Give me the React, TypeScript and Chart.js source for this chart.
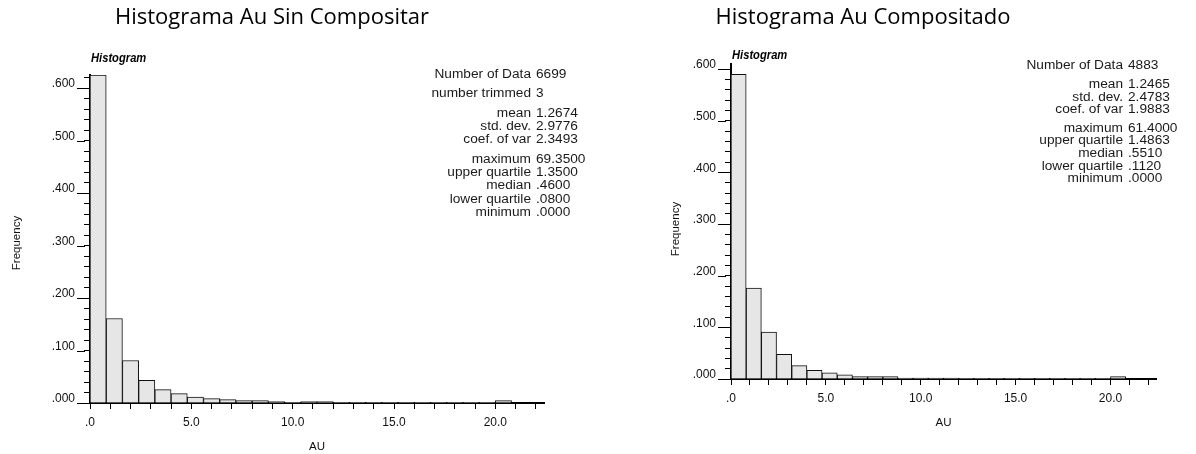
import { useEffect, useRef } from "react";
import { Chart, registerables } from "chart.js";

Chart.register(...registerables);

// Lower edge of every Au class; each class is binWidth wide
const binStarts = [
  0.0, 0.8, 1.6, 2.4, 3.2, 4.0, 4.8, 5.6, 6.4, 7.2, 8.0, 8.8, 9.6, 10.4,
  11.2, 12.0, 12.8, 13.6, 14.4, 15.2, 16.0, 16.8, 17.6, 18.4, 19.2, 20.0, 20.8, 21.6,
];
const binWidth = 0.8;

// Relative frequency per class, raw samples
const freqSinCompositar = [
  0.625, 0.161, 0.081, 0.043, 0.0254, 0.0178, 0.0114, 0.0083, 0.0064, 0.0045,
  0.0045, 0.0026, 0.0005, 0.0026, 0.0026, 0.0004, 0.0004, 0.0003, 0.0003, 0.0003,
  0.0003, 0.0002, 0.0002, 0.0002, 0.0002, 0.0045, 0, 0,
];

// Relative frequency per class, composited samples
const freqCompositado = [
  0.59, 0.176, 0.091, 0.048, 0.026, 0.017, 0.012, 0.008, 0.0045, 0.0045,
  0.0045, 0.002, 0.002, 0.002, 0.002, 0.0004, 0.0004, 0.0003, 0.0003, 0.0003,
  0.0003, 0.0002, 0.0002, 0.0002, 0.0002, 0.0045, 0, 0,
];

const xTickValues = [0, 5, 10, 15, 20];
const xTickLabels = [".0", "5.0", "10.0", "15.0", "20.0"];
const yTickValues = [0, 0.1, 0.2, 0.3, 0.4, 0.5, 0.6];
const yTickLabels = [".000", ".100", ".200", ".300", ".400", ".500", ".600"];

// Summary statistics, grouped as printed
const statsSinCompositar: [string, string][][] = [
  [["Number of Data", "6699"]],
  [["number trimmed", "3"]],
  [["mean", "1.2674"], ["std. dev.", "2.9776"], ["coef. of var", "2.3493"]],
  [
    ["maximum", "69.3500"],
    ["upper quartile", "1.3500"],
    ["median", ".4600"],
    ["lower quartile", ".0800"],
    ["minimum", ".0000"],
  ],
];

const statsCompositado: [string, string][][] = [
  [["Number of Data", "4883"]],
  [["mean", "1.2465"], ["std. dev.", "2.4783"], ["coef. of var", "1.9883"]],
  [
    ["maximum", "61.4000"],
    ["upper quartile", "1.4863"],
    ["median", ".5510"],
    ["lower quartile", ".1120"],
    ["minimum", ".0000"],
  ],
];

type PanelLayout = {
  left: number;
  padLeft: number;
  padRight: number;
  padTop: number;
  padBottom: number;
  yAxisWidth: number;
  xAxisHeight: number;
  yMax: number;
  titleX: number;
  titleY: number;
  subY: number;
  yTitleX: number;
  yTitleY: number;
  statsX: number;
  statsTop: number;
  statsStep: number;
  statsGap: number;
};

const W = 598;
const H = 454;
const SANS = "'Liberation Sans', Arial, sans-serif";

const labelFor = (values: number[], labels: string[], v: number) => {
  const i = values.findIndex((t) => Math.abs(t - v) < 1e-6);
  return i >= 0 ? labels[i] : "";
};

// text drawn with a horizontal stretch factor, anchored at x
function stretchedText(
  ctx: CanvasRenderingContext2D,
  text: string,
  x: number,
  y: number,
  align: "left" | "right" | "center",
  sx: number
) {
  ctx.save();
  ctx.translate(x, y);
  ctx.scale(sx, 1);
  ctx.textAlign = align;
  ctx.fillText(text, 0, 0);
  ctx.restore();
}

function Panel(props: {
  title: string;
  freqs: number[];
  stats: [string, string][][];
  layout: PanelLayout;
}) {
  const ref = useRef<HTMLCanvasElement | null>(null);
  const { title, freqs, stats, layout: L } = props;

  useEffect(() => {
    if (!ref.current) return;

    const decorations = {
      id: "histDecorations",
      afterDraw(chart: Chart) {
        const ctx = chart.ctx;
        const area = chart.chartArea;
        const yScale = chart.scales.y;
        ctx.save();

        // long major ticks on the frequency axis
        ctx.strokeStyle = "#000";
        ctx.lineWidth = 1;
        yTickValues.forEach((v) => {
          const y = Math.round(yScale.getPixelForValue(v)) + 0.5;
          ctx.beginPath();
          ctx.moveTo(area.left - 13, y);
          ctx.lineTo(area.left - 5, y);
          ctx.stroke();
        });

        // panel heading
        ctx.fillStyle = "#000";
        ctx.font = "22px 'Open Sans', sans-serif";
        ctx.textAlign = "center";
        ctx.textBaseline = "middle";
        ctx.fillText(title, L.titleX, L.titleY);

        // "Histogram" tag above the plot
        ctx.font = `italic bold 13px ${SANS}`;
        stretchedText(ctx, "Histogram", area.left + 1, L.subY, "left", 0.86);

        // frequency axis title
        ctx.save();
        ctx.translate(L.yTitleX, L.yTitleY);
        ctx.rotate(-Math.PI / 2);
        ctx.font = `11.5px ${SANS}`;
        ctx.fillStyle = "#111";
        ctx.textAlign = "center";
        ctx.fillText("Frequency", 0, 0);
        ctx.restore();

        // statistics block
        ctx.font = `12px ${SANS}`;
        ctx.fillStyle = "#1a1a1a";
        let y = L.statsTop;
        stats.forEach((group, gi) => {
          if (gi > 0) y += L.statsGap - L.statsStep;
          group.forEach(([name, value]) => {
            stretchedText(ctx, name, L.statsX - 3, y, "right", 1.14);
            stretchedText(ctx, value, L.statsX + 2, y, "left", 1.14);
            y += L.statsStep;
          });
        });
        ctx.restore();
      },
    };

    const chart = new Chart(ref.current, {
      type: "bar",
      data: {
        datasets: [
          {
            data: binStarts.map((s, i) => ({ x: s + binWidth / 2, y: freqs[i] })),
            backgroundColor: "#e6e6e6",
            borderColor: "#111",
            borderWidth: 1,
            barPercentage: 1,
            categoryPercentage: 1,
          },
        ],
      },
      options: {
        responsive: false,
        animation: false,
        layout: {
          padding: { left: L.padLeft, right: L.padRight, top: L.padTop, bottom: L.padBottom },
        },
        plugins: {
          legend: { display: false },
          tooltip: { enabled: false },
          title: { display: false },
        },
        scales: {
          x: {
            type: "linear",
            min: 0,
            max: binStarts[binStarts.length - 1] + binWidth,
            offset: false,
            afterFit: (s: any) => {
              s.height = L.xAxisHeight;
            },
            border: { display: true, color: "#000", width: 2 },
            grid: {
              drawOnChartArea: false,
              drawTicks: true,
              tickLength: 6,
              tickColor: "#000",
              offset: false,
            },
            ticks: {
              stepSize: 1,
              includeBounds: false,
              autoSkip: false,
              maxRotation: 0,
              padding: 6,
              color: "#111",
              font: { family: SANS, size: 12 },
              callback: (v: any) => labelFor(xTickValues, xTickLabels, Number(v)),
            },
            title: {
              display: true,
              text: "AU",
              color: "#111",
              font: { family: SANS, size: 11.5 },
              padding: { top: 0, bottom: 0 },
            },
          },
          y: {
            type: "linear",
            min: 0,
            max: L.yMax,
            afterFit: (s: any) => {
              s.width = L.yAxisWidth;
            },
            border: { display: true, color: "#000", width: 2 },
            grid: {
              drawOnChartArea: false,
              drawTicks: true,
              tickLength: 6,
              tickColor: "#000",
            },
            ticks: {
              stepSize: 0.02,
              includeBounds: false,
              autoSkip: false,
              padding: 9,
              labelOffset: -4,
              color: "#111",
              font: { family: SANS, size: 12 },
              callback: (v: any) => labelFor(yTickValues, yTickLabels, Number(v)),
            },
          },
        },
      },
      plugins: [decorations],
    });

    return () => chart.destroy();
  }, [title, freqs, stats, L]);

  return (
    <canvas
      ref={ref}
      width={W}
      height={H}
      style={{ position: "absolute", left: L.left, top: 0, width: W, height: H }}
    />
  );
}

const leftLayout: PanelLayout = {
  left: 0,
  padLeft: 8,
  padRight: 54,
  padTop: 75,
  padBottom: 0,
  yAxisWidth: 82,
  xAxisHeight: 51,
  yMax: 0.625,
  titleX: 272,
  titleY: 18,
  subY: 58,
  yTitleX: 17,
  yTitleY: 243,
  statsX: 534,
  statsTop: 75,
  statsStep: 13.45,
  statsGap: 19.1,
};

const rightLayout: PanelLayout = {
  left: 598,
  padLeft: 69,
  padRight: 40,
  padTop: 64,
  padBottom: 24,
  yAxisWidth: 64,
  xAxisHeight: 51,
  yMax: 0.61,
  titleX: 265,
  titleY: 18,
  subY: 55,
  yTitleX: 78,
  yTitleY: 229,
  statsX: 528,
  statsTop: 66,
  statsStep: 12.6,
  statsGap: 18.6,
};

export default function App() {
  return (
    <div
      style={{
        position: "absolute",
        left: 0,
        top: 0,
        width: 1196,
        height: 454,
        background: "#fff",
        overflow: "hidden",
      }}
    >
      <Panel
        title="Histograma Au Sin Compositar"
        freqs={freqSinCompositar}
        stats={statsSinCompositar}
        layout={leftLayout}
      />
      <Panel
        title="Histograma Au Compositado"
        freqs={freqCompositado}
        stats={statsCompositado}
        layout={rightLayout}
      />
    </div>
  );
}
